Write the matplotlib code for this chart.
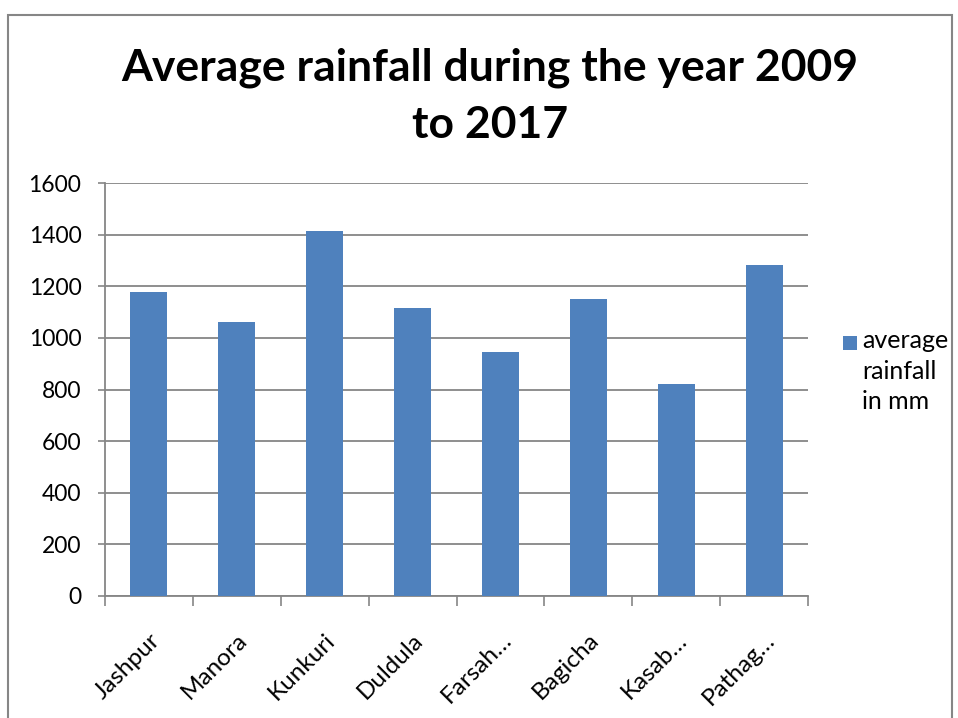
import matplotlib
matplotlib.use('Agg')
import matplotlib.pyplot as plt
from matplotlib.patches import Rectangle

# Data
places = ['Jashpur', 'Manora', 'Kunkuri', 'Duldula', 'Farsah…', 'Bagicha', 'Kasab…', 'Pathag…']
rainfall = [1176, 1060, 1414, 1115, 945, 1149, 821, 1283]
yticks = [0, 200, 400, 600, 800, 1000, 1200, 1400, 1600]
series_name = 'average\nrainfall\nin mm'

plt.rcParams['font.family'] = ['Lato', 'DejaVu Sans']
bar_color = '#4f81bd'
grid_color = '#868686'
W, H = 958, 718

fig = plt.figure(figsize=(9.58, 7.18), dpi=100)

# outer chart border
fig.patches.append(Rectangle((8 / W, -0.05), 944 / W, (H - 15) / H + 0.05,
                             transform=fig.transFigure, fill=False,
                             edgecolor=grid_color, linewidth=1.5))

ax = fig.add_axes([105 / W, 122 / H, 703 / W, 413 / H])
x = range(len(places))
ax.bar(x, rainfall, width=0.42, color=bar_color, zorder=3)

ax.set_xlim(-0.5, len(places) - 0.5)
ax.set_ylim(0, 1600)
ax.set_yticks(yticks)
ax.tick_params(axis='y', labelsize=16.5, length=5, color=grid_color, width=1.2, pad=12)
ax.yaxis.grid(True, color=grid_color, linewidth=1.3, zorder=0)

ax.set_xticks(list(x))
ax.set_xticklabels(places, rotation=45, ha='right', rotation_mode='anchor', fontsize=17.5)
ax.tick_params(axis='x', which='major', length=0, pad=24)
ax.set_xticks([i - 0.5 for i in range(len(places) + 1)], minor=True)
ax.tick_params(axis='x', which='minor', length=7, color=grid_color, width=1.2)

for side in ['top', 'right']:
    ax.spines[side].set_visible(False)
for side in ['left', 'bottom']:
    ax.spines[side].set_color(grid_color)
    ax.spines[side].set_linewidth(1.3)

fig.text(490 / W, 1 - 96 / H, 'Average rainfall during the year 2009\nto 2017',
         ha='center', va='center', fontsize=32, fontweight='bold', linespacing=1.5)

# legend
fig.patches.append(Rectangle((843 / W, 1 - 350 / H), 14 / W, 14 / H,
                             transform=fig.transFigure, facecolor=bar_color,
                             edgecolor='none'))
fig.text(862 / W, 1 - 329 / H, series_name, ha='left', va='top',
         fontsize=18, linespacing=1.4)

plt.savefig('out.png', dpi=100)
